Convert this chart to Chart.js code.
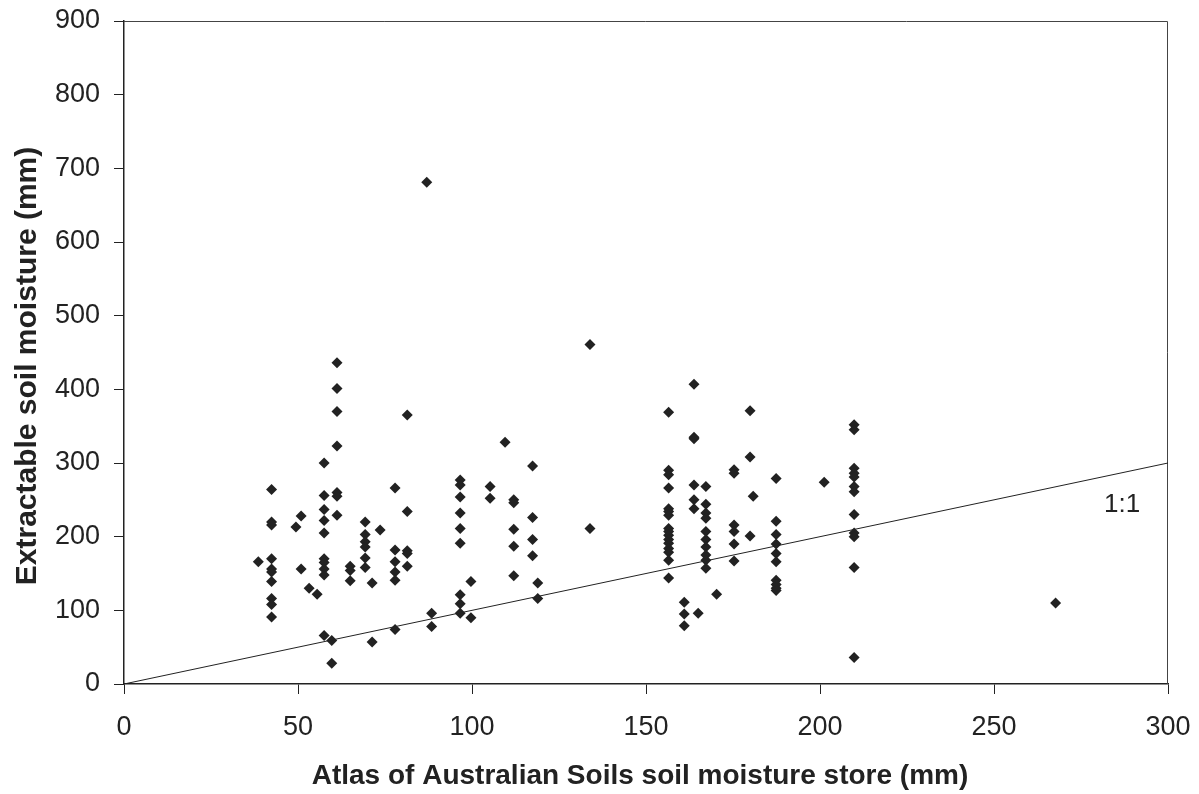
<!DOCTYPE html>
<html>
<head>
<meta charset="utf-8">
<script src="https://cdn.jsdelivr.net/npm/chart.js@4/dist/chart.umd.min.js"></script>
<style>
  html, body { margin: 0; padding: 0; background: #fff; }
  #wrap { width: 1199px; height: 794px; }
</style>
</head>
<body>
<div id="wrap"><canvas id="chart"></canvas></div>
<script>
// Soil moisture store (x, mm) vs extractable soil moisture (y, mm)
var storeX = [
  42.4, 42.4, 42.4, 42.4, 42.4, 42.4, 42.4, 42.4, 42.4, 42.4,
  38.6, 50.9, 49.4, 50.9, 53.2, 55.5,
  57.5, 57.5, 57.5, 57.5, 57.5, 57.5, 57.5, 57.5, 57.5, 57.5,
  61.2, 61.2, 61.2, 61.2, 61.2, 61.2, 61.2, 59.7, 59.7,
  65, 65, 65,
  69.3, 69.3, 69.3, 69.3, 69.3, 69.3,
  71.3, 71.3, 73.6,
  77.9, 77.9, 77.9, 77.9, 77.9, 77.9,
  81.4, 81.4, 81.4, 81.4, 81.4,
  87, 88.4, 88.4,
  96.6, 96.6, 96.6, 96.6, 96.6, 96.6, 96.6, 96.6, 96.6,
  99.7, 99.7, 105.2, 105.2, 109.5,
  112, 112, 112, 112, 112,
  117.4, 117.4, 117.4, 117.4, 118.9, 118.9,
  133.9, 133.9,
  156.5, 156.5, 156.5, 156.5, 156.5, 156.5, 156.5, 156.5, 156.5, 156.5,
  156.5, 156.5, 156.5, 156.5, 156.5, 156.5,
  163.8, 163.8, 163.8, 163.8, 163.8, 163.8,
  167.2, 167.2, 167.2, 167.2, 167.2, 167.2, 167.2, 167.2, 167.2, 167.2,
  161, 161, 161, 165, 170.3,
  175.3, 175.3, 175.3, 175.3, 175.3, 175.3,
  179.9, 179.9, 180.8, 179.9,
  187.4, 187.4, 187.4, 187.4, 187.4, 187.4, 187.4, 187.4, 187.4, 187.4,
  201.2,
  209.8, 209.8, 209.8, 209.8, 209.8, 209.8, 209.8, 209.8, 209.8, 209.8, 209.8, 209.8,
  267.7
];
var extractY = [
  264, 220, 216, 170, 156, 152, 139, 116, 108, 91,
  166, 228, 213, 156, 130, 122,
  300, 256, 237, 222, 205, 170, 165, 156, 148, 66,
  436, 401, 370, 323, 260, 255, 229, 59, 28,
  160, 154, 140,
  220, 203, 193, 186, 171, 158,
  137, 57, 209,
  266, 182, 166, 152, 141, 74,
  365, 234, 181, 177, 160,
  681, 96, 78,
  277, 270, 254, 232, 211, 191, 121, 109, 96,
  139, 90, 268, 252, 328,
  250, 246, 210, 187, 147,
  296, 226, 196, 174, 137, 116,
  461, 211,
  369, 290, 284, 266, 238, 234, 229, 211, 207, 202,
  196, 191, 184, 179, 168, 144,
  407, 335, 333, 270, 250, 238,
  268, 244, 232, 225, 207, 196, 186, 175, 168, 157,
  111, 95, 79, 96, 122,
  291, 286, 216, 207, 190, 167,
  371, 308, 255, 201,
  279, 221, 203, 190, 177, 166, 141, 135, 130, 127,
  274,
  352, 345, 293, 286, 281, 268, 261, 230, 205, 200, 158, 36,
  110
];

// 1:1 reference line
var lineX = [0, 300];
var lineY = [0, 300];
var lineLabel = '1:1';
var lineLabelAt = [286.8, 243];

var xTicks = [0, 50, 100, 150, 200, 250, 300];
var yTicks = [0, 100, 200, 300, 400, 500, 600, 700, 800, 900];

var xTitle = 'Atlas of Australian Soils soil moisture store (mm)';
var yTitle = 'Extractable soil moisture (mm)';

var points = storeX.map(function(x, i){ return { x: x, y: extractY[i] }; });
var linePts = lineX.map(function(x, i){ return { x: x, y: lineY[i] }; });

var FONT = '"Liberation Sans", Arial, sans-serif';

// Plot frame, axis titles and the 1:1 label
var extrasPlugin = {
  id: 'extras',
  beforeDatasetsDraw: function(chart){
    var a = chart.chartArea, ctx = chart.ctx;
    ctx.save();
    ctx.strokeStyle = '#444';
    ctx.lineWidth = 1;
    ctx.beginPath();
    ctx.moveTo(a.left, a.top + 0.5);
    ctx.lineTo(a.right - 0.5, a.top + 0.5);
    ctx.lineTo(a.right - 0.5, a.bottom);
    ctx.stroke();
    ctx.restore();
  },
  afterDatasetsDraw: function(chart){
    var ctx = chart.ctx;
    var px = chart.scales.x.getPixelForValue(lineLabelAt[0]);
    var py = chart.scales.y.getPixelForValue(lineLabelAt[1]);
    ctx.save();
    ctx.fillStyle = '#222';
    ctx.textAlign = 'center';
    ctx.textBaseline = 'middle';
    ctx.font = '26px ' + FONT;
    ctx.fillText(lineLabel, px, py);

    ctx.font = 'bold 28px ' + FONT;
    ctx.fillText(xTitle, 640, 776);

    ctx.translate(28, 366);
    ctx.rotate(-Math.PI / 2);
    ctx.font = 'bold 30px ' + FONT;
    ctx.fillText(yTitle, 0, 0);
    ctx.restore();
  }
};

var tickFont = { family: FONT, size: 27 };

new Chart(document.getElementById('chart'), {
  type: 'scatter',
  data: {
    datasets: [
      {
        data: linePts,
        showLine: true,
        borderColor: '#222',
        borderWidth: 1,
        pointRadius: 0,
        fill: false
      },
      {
        data: points,
        pointStyle: 'rectRot',
        pointRadius: 5.5,
        backgroundColor: '#222',
        borderColor: '#222',
        borderWidth: 0
      }
    ]
  },
  options: {
    responsive: true,
    maintainAspectRatio: false,
    animation: false,
    layout: { padding: { top: 21, right: 31, bottom: 0, left: 0 } },
    plugins: { legend: { display: false }, tooltip: { enabled: false } },
    scales: {
      x: {
        type: 'linear',
        min: 0, max: 300,
        afterBuildTicks: function(scale){ scale.ticks = xTicks.map(function(v){ return { value: v }; }); },
        afterFit: function(scale){
          scale.height = 110;
          scale.paddingLeft = 0;
          scale.paddingRight = 0;
        },
        grid: { drawOnChartArea: false, drawTicks: true, tickLength: 10, color: '#222' },
        border: { color: '#222', width: 1.5 },
        ticks: { color: '#222', font: tickFont, padding: 17, maxRotation: 0 }
      },
      y: {
        type: 'linear',
        min: 0, max: 900,
        afterBuildTicks: function(scale){ scale.ticks = yTicks.map(function(v){ return { value: v }; }); },
        afterFit: function(scale){
          scale.width = 124;
          scale.paddingTop = 0;
          scale.paddingBottom = 0;
        },
        grid: { drawOnChartArea: false, drawTicks: true, tickLength: 10, color: '#222' },
        border: { color: '#222', width: 1.5 },
        ticks: { color: '#222', font: tickFont, padding: 14 }
      }
    }
  },
  plugins: [extrasPlugin]
});
</script>
</body>
</html>
